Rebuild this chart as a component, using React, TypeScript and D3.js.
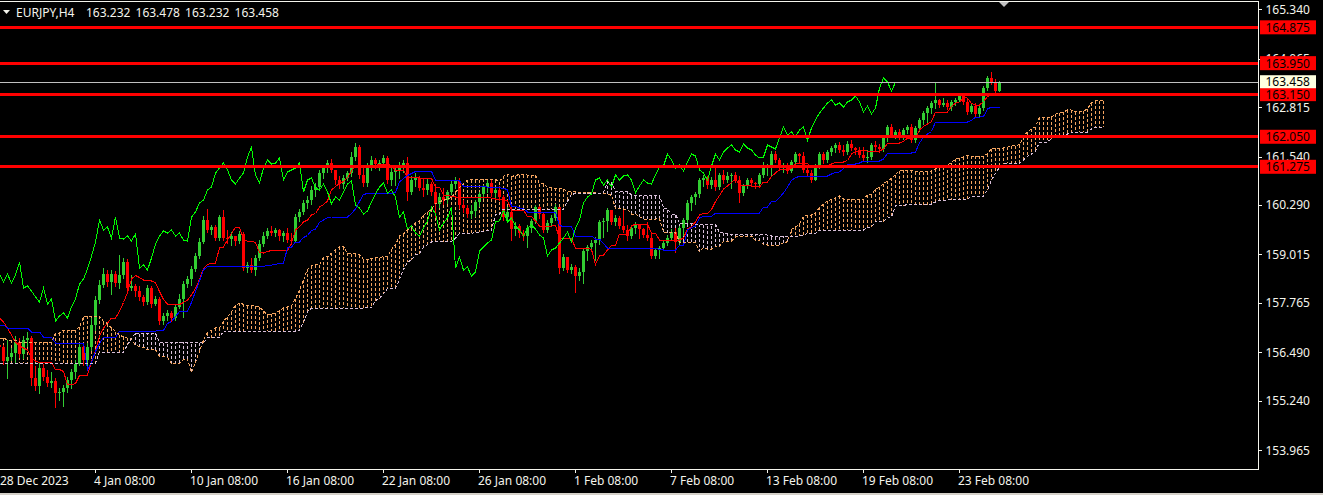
import * as d3 from 'd3';

// EURJPY H4, Ichimoku (9, 26, 52) on black
const WIDTH = 1323;
const HEIGHT = 495;
const PLOT_RIGHT = 1258;
const PLOT_BOTTOM = 469;
const FONT = '"Noto Sans", "DejaVu Sans", sans-serif';

const symbol = 'EURJPY,H4';
const priceTicks = [165.34, 164.065, 162.815, 161.54, 160.29, 159.015, 157.765, 156.49, 155.24, 153.965];
const timeLabels = [
  '28 Dec 2023', '4 Jan 08:00', '10 Jan 08:00', '16 Jan 08:00', '22 Jan 08:00', '26 Jan 08:00',
  '1 Feb 08:00', '7 Feb 08:00', '13 Feb 08:00', '19 Feb 08:00', '23 Feb 08:00',
];
const barsPerLabel = 24;
const levels = [164.875, 163.95, 163.15, 162.05, 161.275];
const bid = 163.458;

// candles: open of each bar is the previous close
const firstOpen = 156.675;
const closes = [
  156.623, 156.262, 156.365, 156.468, 156.752, 156.442, 156.804, 156.855, 155.823, 155.616,
  156.081, 155.849, 155.694, 155.745, 155.436, 155.462, 155.565, 155.771, 155.978, 156.184,
  156.623, 156.287, 156.623, 157.191, 157.836, 158.223, 158.507, 158.301, 158.507, 158.275,
  158.482, 158.817, 158.146, 158.198, 158.069, 157.914, 157.785, 158.146, 157.733, 157.862,
  157.294, 157.423, 157.501, 157.372, 157.656, 157.862, 158.249, 158.378, 158.637, 158.972,
  159.333, 159.901, 159.643, 159.721, 159.437, 159.979, 159.437, 159.411, 159.488, 159.359,
  159.54, 158.662, 158.74, 158.611, 158.92, 159.282, 159.488, 159.617, 159.566, 159.643,
  159.488, 159.566, 159.385, 159.359, 159.979, 160.108, 160.34, 160.417, 160.676, 160.753,
  161.114, 161.243, 161.372, 161.192, 160.934, 160.83, 160.985, 161.114, 161.527, 161.785,
  161.063, 160.856, 161.243, 161.45, 161.347, 161.372, 161.502, 160.934, 161.14, 161.192,
  161.243, 161.372, 160.624, 160.934, 160.985, 160.727, 160.676, 160.83, 160.624, 160.314,
  160.495, 160.417, 160.624, 160.83, 160.908, 160.288, 160.211, 160.056, 160.134, 160.366,
  160.572, 160.753, 160.856, 160.598, 160.676, 160.495, 159.979, 160.108, 159.669, 159.746,
  159.566, 159.488, 159.695, 159.876, 160.237, 160.056, 159.643, 159.824, 159.953, 160.237,
  158.662, 158.946, 158.611, 158.688, 158.456, 158.559, 159.101, 159.204, 159.308, 159.385,
  159.85, 159.876, 160.159, 159.85, 159.953, 159.746, 159.643, 159.488, 159.695, 159.772,
  159.669, 159.514, 159.437, 158.972, 159.127, 159.179, 159.308, 159.437, 159.592, 159.333,
  159.695, 159.901, 160.34, 160.495, 160.572, 160.934, 160.985, 160.805, 160.934, 160.753,
  161.063, 160.934, 161.037, 161.063, 160.934, 160.598, 160.779, 160.934, 160.856, 160.83,
  161.063, 161.269, 161.295, 161.605, 161.45, 161.243, 161.321, 161.166, 161.398, 161.605,
  161.553, 161.192, 161.114, 160.934, 161.295, 161.605, 161.45, 161.656, 161.76, 161.837,
  161.708, 161.656, 161.863, 161.76, 161.708, 161.579, 161.502, 161.527, 161.837, 161.785,
  161.734, 162.018, 162.302, 162.095, 162.173, 162.044, 162.224, 162.302, 161.966, 162.276,
  162.482, 162.663, 162.792, 162.921, 162.999, 162.87, 162.921, 162.818, 162.947, 162.999,
  163.102, 162.947, 162.689, 162.844, 162.637, 162.792, 163.308, 163.567, 163.463, 163.232,
  163.458,
];
const highs = [
  156.804, 156.675, 156.804, 156.597, 156.907, 156.855, 156.907, 157.01, 156.907, 156.133,
  156.236, 156.184, 156.029, 155.978, 155.823, 155.565, 155.642, 155.849, 156.055, 156.287,
  156.7, 156.726, 156.726, 157.372, 157.94, 158.352, 158.662, 158.611, 158.611, 158.585,
  158.998, 158.92, 158.895, 158.482, 158.249, 158.198, 157.965, 158.223, 158.198, 157.94,
  157.914, 157.501, 157.578, 157.552, 157.733, 157.991, 158.327, 158.456, 158.714, 159.05,
  159.437, 160.005, 160.185, 159.772, 159.772, 160.03, 160.159, 159.643, 159.592, 159.488,
  159.617, 159.592, 158.817, 158.92, 158.998, 159.385, 159.592, 159.695, 159.746, 159.695,
  159.669, 159.617, 159.695, 159.566, 160.056, 160.185, 160.417, 160.521, 160.779, 160.856,
  161.192, 161.321, 161.45, 161.476, 161.192, 161.037, 161.063, 161.166, 161.656, 161.889,
  161.837, 161.321, 161.372, 161.553, 161.502, 161.45, 161.579, 161.553, 161.321, 161.269,
  161.398, 161.45, 161.527, 161.037, 161.114, 161.037, 160.985, 160.985, 160.882, 160.83,
  160.598, 160.727, 160.676, 160.934, 161.011, 160.985, 160.417, 160.288, 160.288, 160.417,
  160.624, 160.805, 160.934, 160.934, 160.753, 160.779, 160.547, 160.237, 160.237, 159.85,
  159.798, 159.643, 159.772, 159.927, 160.288, 160.263, 160.082, 159.901, 160.03, 160.314,
  160.237, 159.024, 158.92, 158.766, 158.74, 158.662, 159.179, 159.256, 159.385, 159.463,
  159.901, 159.953, 160.211, 160.108, 160.03, 160.005, 160.211, 159.772, 159.746, 159.85,
  159.772, 159.695, 159.85, 159.566, 159.179, 159.23, 159.385, 159.514, 159.669, 159.695,
  159.746, 159.953, 160.417, 160.547, 160.624, 160.985, 161.063, 161.037, 161.011, 161.243,
  161.114, 161.192, 161.14, 161.114, 161.14, 161.037, 160.83, 160.985, 160.985, 160.882,
  161.114, 161.398, 161.347, 161.682, 161.682, 161.502, 161.372, 161.372, 161.45, 161.656,
  161.631, 161.656, 161.243, 161.192, 161.347, 161.656, 161.656, 161.708, 161.811, 161.889,
  161.915, 161.837, 161.94, 161.966, 161.785, 161.785, 161.785, 161.708, 161.889, 161.94,
  161.863, 162.069, 162.353, 162.379, 162.224, 162.25, 162.276, 162.353, 162.379, 162.328,
  162.534, 162.715, 162.844, 162.973, 163.463, 163.025, 163.05, 162.999, 162.999, 163.05,
  163.179, 163.128, 163.05, 162.921, 162.921, 162.87, 163.36, 163.618, 163.72, 163.54,
  163.478,
];
const lows = [
  156.494, 156.184, 155.823, 156.287, 156.236, 156.365, 156.339, 156.649, 155.642, 155.513,
  155.436, 155.771, 155.616, 155.591, 155.074, 155.255, 155.1, 155.462, 155.565, 155.823,
  156.158, 156.158, 156.081, 156.546, 157.062, 157.759, 158.172, 158.198, 157.991, 158.198,
  158.146, 158.404, 158.043, 158.094, 157.94, 157.836, 157.707, 157.733, 157.656, 157.707,
  157.217, 157.217, 157.32, 157.294, 157.32, 157.63, 157.397, 158.172, 158.223, 158.585,
  158.92, 159.308, 159.592, 159.54, 159.385, 159.385, 159.385, 159.308, 159.256, 159.256,
  159.308, 158.611, 158.559, 158.559, 158.482, 158.869, 159.23, 159.437, 159.514, 159.488,
  159.385, 159.359, 159.333, 159.282, 159.333, 159.876, 160.056, 160.211, 160.314, 160.521,
  160.676, 160.985, 161.14, 161.14, 160.83, 160.727, 160.727, 160.934, 161.037, 161.45,
  160.985, 160.779, 160.779, 161.192, 161.243, 161.192, 161.295, 160.856, 160.805, 160.805,
  160.985, 161.14, 160.417, 160.572, 160.779, 160.676, 160.521, 160.572, 160.547, 159.979,
  160.237, 160.314, 160.34, 160.572, 160.727, 160.211, 160.108, 159.979, 159.953, 160.005,
  160.263, 160.469, 160.624, 160.521, 160.469, 160.417, 159.901, 159.85, 159.385, 159.514,
  159.463, 159.385, 159.204, 159.592, 159.824, 159.953, 159.592, 159.592, 159.772, 159.901,
  158.533, 158.611, 158.559, 158.533, 158.043, 158.352, 158.275, 158.869, 159.127, 158.869,
  159.282, 159.463, 159.617, 159.798, 159.772, 159.695, 159.592, 159.385, 159.437, 159.566,
  159.437, 159.463, 159.385, 158.92, 158.92, 158.92, 159.127, 159.256, 159.385, 159.075,
  159.282, 159.514, 159.824, 160.159, 160.314, 160.495, 160.779, 160.727, 160.727, 160.676,
  160.701, 160.856, 160.882, 160.727, 160.882, 160.366, 160.547, 160.727, 160.805, 160.727,
  160.779, 161.011, 161.063, 161.037, 161.398, 161.192, 161.14, 161.114, 161.14, 161.347,
  161.372, 161.14, 161.037, 160.882, 160.934, 161.243, 161.372, 161.398, 161.579, 161.656,
  161.656, 161.579, 161.605, 161.708, 161.605, 161.527, 161.45, 161.398, 161.476, 161.708,
  161.656, 161.682, 161.94, 162.044, 162.018, 161.992, 161.992, 162.147, 161.915, 161.915,
  162.199, 162.379, 162.405, 162.663, 162.792, 162.818, 162.844, 162.766, 162.741, 162.87,
  162.973, 162.895, 162.637, 162.663, 162.56, 162.586, 162.741, 163.257, 163.412, 163.205,
  163.232,
];

// indicator values at the left edge, which depend on bars before the window
const tenkanLead = [157.372, 157.268, 157.113, 156.933, 156.752, 156.649, 156.597, 156.546];
const kijunLead = [
  157.191, 157.191, 157.113, 157.113, 157.113, 157.113, 157.113, 157.113, 157.01, 157.01,
  157.01, 156.881, 156.881, 156.881, 156.726, 156.726, 156.726, 156.726, 156.726, 156.726,
  156.726, 156.726,
];
const spanALead = [
  156.855, 156.855, 156.804, 156.804, 156.804, 156.752, 156.752, 156.752, 156.752, 156.752,
  156.752, 156.752, 156.752, 156.752, 156.984, 156.984, 157.062, 157.062, 157.062, 157.062,
  157.139, 157.397, 157.423, 157.423, 157.423, 157.423,
];
const spanBLead = [
  156.21, 156.21, 156.21, 156.21, 156.21, 156.21, 156.21, 156.21, 156.21, 156.21,
  156.21, 156.21, 156.21, 156.21, 156.21, 156.21, 156.21, 156.21, 156.21, 156.21,
  156.21, 156.21, 156.21, 156.21, 156.21, 156.494, 156.494, 156.494, 156.494, 156.494,
  156.494, 156.494, 156.675, 156.855, 156.984, 156.984, 156.984, 156.984, 156.984, 156.984,
  156.752, 156.752, 156.752, 156.752, 156.752, 156.752, 156.752, 156.752, 156.752, 156.752,
  156.752,
];

const TENKAN = 9;
const KIJUN = 26;
const SENKOU = 52;

const BULL = '#32cd32';
const BEAR = '#ff0000';
const SANDY = '#f4a460';
const THISTLE = '#d8bfd8';
const FG = '#f4f4ec';

function midRange(from: number, to: number) {
  const a = Math.max(0, from);
  const hi = d3.max(highs.slice(a, to + 1)) as number;
  const lo = d3.min(lows.slice(a, to + 1)) as number;
  return (hi + lo) / 2;
}

export default function App() {
  const n = closes.length;
  const opens = closes.map((c, i) => (i === 0 ? firstOpen : closes[i - 1]));

  const tenkan = d3.range(n).map(i => (i < tenkanLead.length ? tenkanLead[i] : midRange(i - TENKAN + 1, i)));
  const kijun = d3.range(n).map(i => (i < kijunLead.length ? kijunLead[i] : midRange(i - KIJUN + 1, i)));
  const spanA = d3.range(n + KIJUN).map(j =>
    j < spanALead.length ? spanALead[j] : (tenkan[j - KIJUN] + kijun[j - KIJUN]) / 2
  );
  const spanB = d3.range(n + KIJUN).map(j =>
    j < spanBLead.length ? spanBLead[j] : midRange(j - KIJUN - SENKOU + 1, j - KIJUN)
  );
  const chikou = closes.slice(KIJUN);

  const y = d3.scaleLinear().domain([153.965, 165.34]).range([450, 9.3]);
  const x = d3.scaleLinear().domain([0, 1]).range([-1.4, 2.6]);
  const px = (i: number) => Math.round(x(i));

  const line = d3.line<number>()
    .x((_, i) => px(i) + 0.5)
    .y(d => y(d));

  // kumo hatching: one dotted vertical per bar, coloured by which span is on top
  const hatch = (up: boolean) => {
    const p = d3.path();
    spanA.forEach((a, j) => {
      const b = spanB[j];
      if ((a >= b) !== up) return;
      p.moveTo(px(j) + 0.5, y(a));
      p.lineTo(px(j) + 0.5, y(b));
    });
    return p.toString();
  };

  const last = n - 1;
  const ohlc = [opens[last], Math.max(highs[last], opens[last], closes[last]), Math.min(lows[last], opens[last], closes[last]), closes[last]]
    .map(v => v.toFixed(3))
    .join(' ');
  const shiftX = Math.round(x(n)) + 1;

  return (
    <div style={{ position: 'fixed', inset: 0, background: '#000' }}>
      <svg width={WIDTH} height={HEIGHT} style={{ display: 'block', position: 'absolute', left: 0, top: 0 }}>
        <defs>
          <clipPath id="plot">
            <rect x={0} y={2} width={PLOT_RIGHT} height={PLOT_BOTTOM - 2} />
          </clipPath>
        </defs>
        <rect width={WIDTH} height={HEIGHT} fill="#000" />

        <g clipPath="url(#plot)" shapeRendering="crispEdges">
          <path d={hatch(true)} fill="none" stroke={SANDY} strokeDasharray="3,2" />
          <path d={hatch(false)} fill="none" stroke={THISTLE} strokeDasharray="3,2" />

          {/* candles */}
          {closes.map((c, i) => {
            const o = opens[i];
            const hi = Math.max(highs[i], o, c);
            const lo = Math.min(lows[i], o, c);
            const color = c >= o ? BULL : BEAR;
            const top = Math.round(y(Math.max(o, c)));
            const bottom = Math.round(y(Math.min(o, c)));
            const cx = px(i);
            return (
              <g key={`c${i}`}>
                <line x1={cx + 0.5} x2={cx + 0.5} y1={Math.round(y(hi))} y2={Math.round(y(lo)) + 1} stroke={color} />
                <rect x={cx - 1} y={top} width={3} height={Math.max(1, bottom - top)} fill={color} />
              </g>
            );
          })}

          <path d={line(tenkan) ?? ''} fill="none" stroke="#ff0000" />
          <path d={line(kijun) ?? ''} fill="none" stroke="#0000ff" />
          <path d={line(chikou) ?? ''} fill="none" stroke="#00ff00" />
          <path d={line(spanA) ?? ''} fill="none" stroke={SANDY} strokeDasharray="3,2" />
          <path d={line(spanB) ?? ''} fill="none" stroke={THISTLE} strokeDasharray="3,2" />

          {/* bid line and horizontal levels */}
          <line x1={0} x2={PLOT_RIGHT} y1={Math.round(y(bid)) + 0.5} y2={Math.round(y(bid)) + 0.5} stroke="#c0c0c0" />
          {levels.map(l => (
            <line key={`l${l}`} x1={0} x2={PLOT_RIGHT} y1={y(l)} y2={y(l)} stroke="#ff0000" strokeWidth={3} />
          ))}
        </g>

        {/* frame */}
        <g shapeRendering="crispEdges" stroke={FG} fill="none">
          <line x1={0} x2={PLOT_RIGHT + 0.5} y1={1.5} y2={1.5} />
          <line x1={PLOT_RIGHT + 0.5} x2={PLOT_RIGHT + 0.5} y1={1.5} y2={PLOT_BOTTOM + 0.5} />
          <line x1={0} x2={PLOT_RIGHT + 0.5} y1={PLOT_BOTTOM + 0.5} y2={PLOT_BOTTOM + 0.5} />
        </g>

        {/* price axis */}
        {priceTicks.map(t => (
          <g key={`p${t}`}>
            <line x1={PLOT_RIGHT} x2={PLOT_RIGHT + 4} y1={Math.round(y(t)) + 0.5} y2={Math.round(y(t)) + 0.5} stroke={FG} shapeRendering="crispEdges" />
            <text x={1265.5} y={y(t) + 4.5} fill={FG} fontFamily={FONT} fontSize={12}>
              {t.toFixed(3)}
            </text>
          </g>
        ))}
        {levels.map(l => (
          <g key={`lb${l}`}>
            <rect x={1260} y={y(l) - 7} width={56} height={14} fill="#ff0000" />
            <text x={1265.5} y={y(l) + 4.5} fill="#000" fontFamily={FONT} fontSize={12}>
              {l.toFixed(3)}
            </text>
          </g>
        ))}
        <rect x={1260} y={y(bid) - 7} width={56} height={13} fill="#ffffe0" />
        <text x={1265.5} y={y(bid) + 4} fill="#000" fontFamily={FONT} fontSize={12}>
          {bid.toFixed(3)}
        </text>

        {/* time axis */}
        {timeLabels.map((label, k) => {
          const tx = px(k * barsPerLabel);
          return (
            <g key={`t${k}`}>
              <line x1={tx + 0.5} x2={tx + 0.5} y1={PLOT_BOTTOM} y2={PLOT_BOTTOM + 4} stroke={FG} shapeRendering="crispEdges" />
              <text x={Math.max(0, tx - 1)} y={485} fill={FG} fontFamily={FONT} fontSize={12}>
                {label}
              </text>
            </g>
          );
        })}

        {/* header */}
        <polygon points="3,10 10,10 6.5,14" fill={FG} />
        <text x={16} y={17} fill={FG} fontFamily={FONT} fontSize={12}>
          {symbol}
        </text>
        <text x={86} y={17} fill={FG} fontFamily={FONT} fontSize={12} style={{ wordSpacing: 2 }}>
          {ohlc}
        </text>
        <polygon points={`${shiftX - 5},2 ${shiftX + 5},2 ${shiftX},7`} fill="#c0c0c0" />

        <rect x={0} y={493} width={WIDTH} height={2} fill="#d4d0c8" />
      </svg>
    </div>
  );
}
